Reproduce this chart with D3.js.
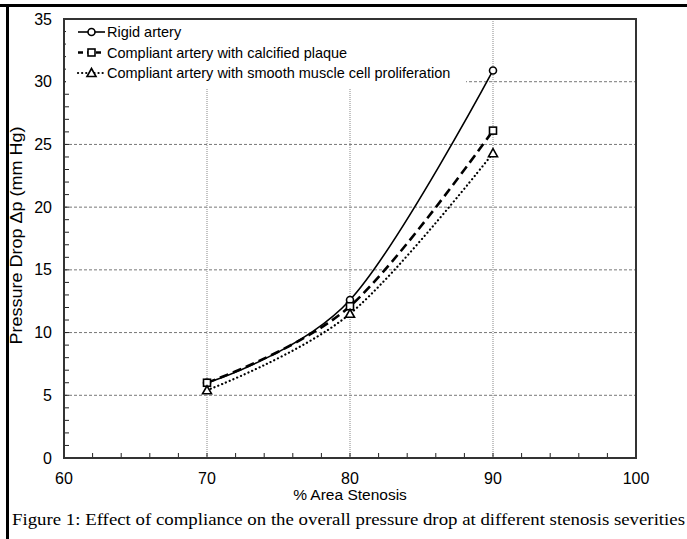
<!DOCTYPE html>
<html>
<head>
<meta charset="utf-8">
<script src="https://cdn.jsdelivr.net/npm/d3@7"></script>
<style>
    body { margin: 0; background: #fff; }
    svg text { font-family: "Liberation Sans", Arial, sans-serif; fill: #000; }
    .caption { font-family: "Liberation Serif", "Times New Roman", serif; }
</style>
</head>
<body>
<div id="chart"></div>
<script>
const stenosis = [70, 80, 90];
const rigidArtery = [6.0, 12.6, 30.9];
const calcifiedPlaque = [6.0, 12.1, 26.1];
const smoothMuscle = [5.4, 11.5, 24.3];
const seriesNames = [
    "Rigid artery",
    "Compliant artery with calcified plaque",
    "Compliant artery with smooth muscle cell proliferation"
];
const xTicks = [60, 70, 80, 90, 100];
const yTicks = [0, 5, 10, 15, 20, 25, 30, 35];

const width = 687, height = 539;
const margin = { top: 19, right: 51, bottom: 81, left: 64 };
const chartWidth = width - margin.left - margin.right;
const chartHeight = height - margin.top - margin.bottom;

const svg = d3.select("#chart").append("svg")
    .attr("width", width)
    .attr("height", height);

// outer picture border (top and left only)
svg.append("line").attr("x1", 0).attr("x2", width).attr("y1", 5.5).attr("y2", 5.5)
    .attr("stroke", "#000").attr("stroke-width", 3);
svg.append("line").attr("x1", 7.5).attr("x2", 7.5).attr("y1", 4).attr("y2", height)
    .attr("stroke", "#000").attr("stroke-width", 3);

const x = d3.scaleLinear().domain([60, 100]).range([0, chartWidth]);
const y = d3.scaleLinear().domain([0, 35]).range([chartHeight, 0]);

const g = svg.append("g").attr("transform", `translate(${margin.left},${margin.top})`);

// gridlines
g.append("g").selectAll("line")
    .data([5, 10, 15, 20, 25, 30])
    .enter().append("line")
    .attr("x1", 0).attr("x2", chartWidth)
    .attr("y1", d => y(d)).attr("y2", d => y(d))
    .attr("stroke", "#777").attr("stroke-width", 1).attr("stroke-dasharray", "3,2");

g.append("g").selectAll("line")
    .data([70, 80, 90])
    .enter().append("line")
    .attr("x1", d => x(d)).attr("x2", d => x(d))
    .attr("y1", 0).attr("y2", chartHeight)
    .attr("stroke", "#888").attr("stroke-width", 1).attr("stroke-dasharray", "1,1");

// minor ticks, inward
g.append("g").selectAll("line")
    .data(d3.range(0, 35, 1))
    .enter().append("line")
    .attr("x1", 0).attr("x2", 5)
    .attr("y1", d => y(d)).attr("y2", d => y(d))
    .attr("stroke", "#222").attr("stroke-width", 1);

g.append("g").selectAll("line")
    .data(d3.range(60, 100, 2))
    .enter().append("line")
    .attr("x1", d => x(d)).attr("x2", d => x(d))
    .attr("y1", chartHeight).attr("y2", chartHeight - 5)
    .attr("stroke", "#222").attr("stroke-width", 1);

// legend box hides the grid underneath
const legend = g.append("g").attr("transform", "translate(2,1)");
legend.append("rect")
    .attr("width", 400).attr("height", 69)
    .attr("fill", "#fff");

// series
const series = [
    { name: seriesNames[0], values: rigidArtery, dash: null, width: 1.6, marker: "circle" },
    { name: seriesNames[1], values: calcifiedPlaque, dash: "9,5", width: 2.6, marker: "square" },
    { name: seriesNames[2], values: smoothMuscle, dash: "0.1,4", width: 2.2, marker: "triangle" }
];

const line = d3.line()
    .x(d => x(d[0]))
    .y(d => y(d[1]))
    .curve(d3.curveCardinal.tension(0));

function drawMarker(sel, type) {
    if (type === "circle") {
        sel.append("circle").attr("r", 3.5);
    } else if (type === "square") {
        sel.append("rect").attr("x", -3.5).attr("y", -3.5).attr("width", 7).attr("height", 7);
    } else {
        sel.append("path").attr("d", "M0,-4.5L4.5,3.5L-4.5,3.5Z");
    }
    sel.selectAll("*").attr("fill", "#fff").attr("stroke", "#000").attr("stroke-width", 1.6);
}

series.forEach(s => {
    const pts = stenosis.map((v, i) => [v, s.values[i]]);
    g.append("path")
        .attr("d", line(pts))
        .attr("fill", "none")
        .attr("stroke", "#000")
        .attr("stroke-width", s.width)
        .attr("stroke-linecap", s.dash === "0.1,4" ? "round" : "butt")
        .attr("stroke-dasharray", s.dash);
});

series.forEach(s => {
    g.append("g").selectAll("g")
        .data(stenosis.map((v, i) => [v, s.values[i]]))
        .enter().append("g")
        .attr("transform", d => `translate(${x(d[0])},${y(d[1])})`)
        .each(function () { drawMarker(d3.select(this), s.marker); });
});

// legend entries
series.forEach((s, i) => {
    const row = legend.append("g").attr("transform", `translate(12,${12 + i * 20.5})`);
    row.append("line")
        .attr("x1", 0).attr("x2", 27)
        .attr("stroke", "#000")
        .attr("stroke-width", s.width)
        .attr("stroke-linecap", s.dash === "0.1,4" ? "round" : "butt")
        .attr("stroke-dasharray", s.dash === "9,5" ? "5,4" : s.dash);
    drawMarker(row.append("g").attr("transform", "translate(13.5,0)"), s.marker);
    row.append("text")
        .attr("x", 29).attr("dy", "0.35em")
        .style("font-size", "14.5px")
        .text(s.name);
});

// frame
g.append("rect")
    .attr("width", chartWidth).attr("height", chartHeight)
    .attr("fill", "none").attr("stroke", "#333").attr("stroke-width", 2);

// tick labels
g.append("g").selectAll("text")
    .data(yTicks)
    .enter().append("text")
    .attr("x", -12).attr("y", d => y(d)).attr("dy", "0.35em")
    .attr("text-anchor", "end")
    .style("font-size", "16px")
    .text(d => d);

g.append("g").selectAll("text")
    .data(xTicks)
    .enter().append("text")
    .attr("x", d => x(d)).attr("y", chartHeight + 26)
    .attr("text-anchor", "middle")
    .style("font-size", "16px")
    .text(d => d);

// axis titles
g.append("text")
    .attr("x", chartWidth / 2).attr("y", chartHeight + 42)
    .attr("text-anchor", "middle")
    .style("font-size", "15.5px")
    .text("% Area Stenosis");

g.append("text")
    .attr("transform", `translate(-42,${chartHeight / 2 - 3}) rotate(-90)`)
    .attr("text-anchor", "middle")
    .attr("textLength", 218)
    .attr("lengthAdjust", "spacingAndGlyphs")
    .style("font-size", "17px")
    .text("Pressure Drop Δp (mm Hg)");

// caption
svg.append("text")
    .attr("class", "caption")
    .attr("x", 12).attr("y", 525)
    .attr("textLength", 673)
    .attr("lengthAdjust", "spacingAndGlyphs")
    .style("font-size", "17px")
    .text("Figure 1: Effect of compliance on the overall pressure drop at different stenosis severities");
</script>
</body>
</html>
